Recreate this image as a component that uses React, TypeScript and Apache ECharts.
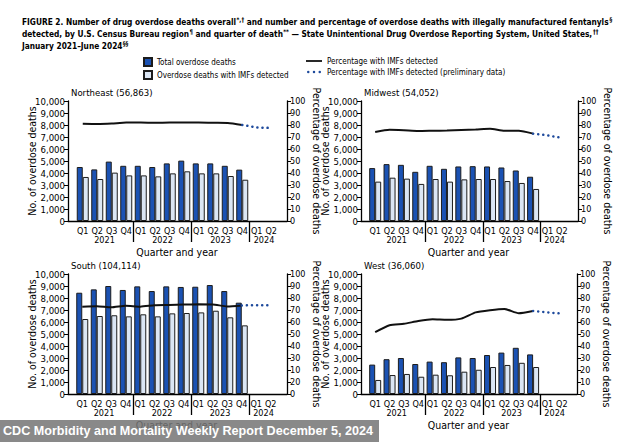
import React, { useEffect, useRef } from "react";
import * as echarts from "echarts";

// ---------- data ----------
const quarters = ["Q1", "Q2", "Q3", "Q4", "Q1", "Q2", "Q3", "Q4", "Q1", "Q2", "Q3", "Q4", "Q1", "Q2"];
const yearTicks = ["", "", "2021", "", "", "", "2022", "", "", "", "2023", "", "", "2024", ""];
const yearSeparators = [4, 8, 12];

const regionNames = ["Northeast (56,863)", "Midwest (54,052)", "South (104,114)", "West (36,060)"];

const neTotal = [4500, 4300, 4950, 4600, 4600, 4500, 4800, 5030, 4800, 4800, 4600, 4280];
const neImf = [3670, 3500, 4030, 3800, 3800, 3720, 3970, 4140, 3970, 3970, 3750, 3440];
const nePct = [81, 80.8, 81.2, 82, 82, 81.8, 82, 82, 82, 81.8, 81.7, 80];
const nePrelim = [80, 78, 77.5];

const mwTotal = [4410, 4740, 4680, 4100, 4600, 4350, 4545, 4570, 4545, 4460, 4210, 3690];
const mwImf = [3280, 3610, 3530, 3090, 3500, 3280, 3470, 3500, 3500, 3330, 3170, 2670];
const mwPct = [74.2, 76, 75.6, 75, 75.2, 75.4, 75.8, 76.2, 76.8, 75.2, 75.2, 72.8];
const mwPrelim = [72.8, 71.4, 69.2];

const soTotal = [8440, 8720, 9000, 8670, 8970, 8580, 8970, 8920, 8940, 9080, 8580, 7610];
const soImf = [6250, 6500, 6560, 6470, 6640, 6470, 6720, 6750, 6800, 6940, 6390, 5720];
const soPct = [72.8, 73.2, 72.2, 73.6, 72.8, 74, 74.2, 74.6, 74.7, 74.6, 73, 73.8];
const soPrelim = [73.8, 74, 74];

const weTotal = [2450, 2900, 3000, 2500, 2700, 2650, 3050, 3000, 3250, 3450, 3850, 3300];
const weImf = [1170, 1580, 1670, 1440, 1610, 1560, 1860, 2020, 2250, 2420, 2600, 2250];
const wePct = [51.5, 57.3, 58.5, 60.8, 62.2, 61.8, 62.8, 68, 69.8, 70.8, 67.3, 69.2];
const wePrelim = [69.2, 68, 67];

const countTicksMax = 10000;
const pctTicksMax = 100;
const southPctTickLabels = ["0", "20", "10", "30", "40", "50", "60", "70", "80", "90", "100"];

const totals = [neTotal, mwTotal, soTotal, weTotal];
const imfs = [neImf, mwImf, soImf, weImf];
const pcts = [nePct, mwPct, soPct, wePct];
const prelims = [nePrelim, mwPrelim, soPrelim, wePrelim];

// ---------- layout ----------
const FONT = "'DejaVu Sans Condensed', 'DejaVu Sans', sans-serif";
const panels = [
  { outerL: 68, outerW: 219, innerL: 75.5, innerW: 203, top: 101, h: 120 },
  { outerL: 361, outerW: 217, innerL: 368, innerW: 201, top: 101, h: 120 },
  { outerL: 68, outerW: 219, innerL: 75, innerW: 203, top: 274, h: 120 },
  { outerL: 361, outerW: 216, innerL: 368, innerW: 201, top: 274, h: 120 },
];

const BLUE = "#1b52b3";
const LIGHT = "#dbe6f4";
const EDGE = "#1c1c1c";
const DOT = "#1e4a9c";

// legend icons: a thick solid stroke, and three dots (invisible corner moves keep the box 16x8)
const SOLID_ICON = "path://M0,0M16,8M0,3.1H16V4.9H0Z";
const DOTS_ICON =
  "path://M0,0M16,8" +
  "M1,4a1.25,1.25 0 1,0 2.5,0a1.25,1.25 0 1,0 -2.5,0" +
  "M6.75,4a1.25,1.25 0 1,0 2.5,0a1.25,1.25 0 1,0 -2.5,0" +
  "M12.5,4a1.25,1.25 0 1,0 2.5,0a1.25,1.25 0 1,0 -2.5,0Z";

function buildOption() {
  const grid: any[] = [];
  const xAxis: any[] = [];
  const yAxis: any[] = [];
  const series: any[] = [];
  const graphic: any[] = [];

  panels.forEach((p, i) => {
    grid.push({ left: p.outerL, top: p.top, width: p.outerW, height: p.h, containLabel: false });
    grid.push({ left: p.innerL, top: p.top, width: p.innerW, height: p.h, containLabel: false });
    const gO = 2 * i;
    const gI = 2 * i + 1;

    xAxis.push({
      gridIndex: gO, type: "value", min: 0, max: 1,
      axisLine: { show: true, lineStyle: { color: "#000", width: 1.3 } },
      axisTick: { show: false }, axisLabel: { show: false }, splitLine: { show: false },
    });
    xAxis.push({
      gridIndex: gI, type: "category", data: quarters, position: "bottom",
      axisLine: { show: false }, axisTick: { show: false },
      axisLabel: { interval: 0, fontSize: 9, margin: 5, color: "#000", fontFamily: FONT },
    });
    xAxis.push({
      gridIndex: gI, type: "category", data: yearTicks, position: "bottom", boundaryGap: false,
      axisLine: { show: false },
      axisTick: {
        show: true, length: 21,
        interval: (idx: number) => yearSeparators.indexOf(idx) >= 0,
        lineStyle: { color: "#000", width: 1.3 },
      },
      axisLabel: { interval: 0, fontSize: 9, margin: 14, color: "#000", fontFamily: FONT },
      name: "Quarter and year", nameLocation: "middle", nameGap: 25,
      nameTextStyle: { fontSize: 10.5, color: "#000", fontFamily: FONT },
    });

    const isSouth = i === 2;
    yAxis.push({
      gridIndex: gO, type: "value", min: 0, max: countTicksMax, interval: 1000, position: "left",
      axisLine: { show: true, lineStyle: { color: "#000", width: 1.3 } },
      axisTick: { show: true, length: 4, lineStyle: { color: "#000" } },
      axisLabel: { fontSize: 9.5, margin: 3, color: "#000", fontFamily: FONT },
      splitLine: { show: false },
      name: "No. of overdose deaths", nameLocation: "middle", nameGap: 30.5, nameMoveOverlap: false,
      nameTextStyle: { fontSize: 10.5, color: "#000", fontFamily: FONT },
    });
    yAxis.push({
      gridIndex: gO, type: "value", min: 0, max: pctTicksMax, interval: 10, position: "right",
      axisLine: { show: true, lineStyle: { color: "#000", width: 1.3 } },
      axisTick: { show: true, length: 4, lineStyle: { color: "#000" } },
      axisLabel: {
        fontSize: 9, margin: 3, color: "#000", fontFamily: FONT,
        formatter: isSouth ? (v: number) => southPctTickLabels[Math.round(v / 10)] : undefined,
      },
      splitLine: { show: false },
      name: "Percentage of overdose deaths", nameLocation: "middle", nameGap: 24, nameRotate: -90,
      nameMoveOverlap: false,
      nameTextStyle: { fontSize: 10.5, color: "#000", fontFamily: FONT },
    });
    yAxis.push({ gridIndex: gI, type: "value", min: 0, max: countTicksMax, show: false, splitLine: { show: false } });
    yAxis.push({ gridIndex: gI, type: "value", min: 0, max: pctTicksMax, show: false, splitLine: { show: false } });

    const xQ = 3 * i + 1;
    const blank2 = [null, null];
    series.push({
      name: "Total overdose deaths", type: "bar", xAxisIndex: xQ, yAxisIndex: 4 * i + 2,
      data: [...totals[i], ...blank2], barWidth: 6, barGap: "0%",
      itemStyle: { color: BLUE, borderColor: EDGE, borderWidth: 1 },
    });
    series.push({
      name: "Overdose deaths with IMFs detected", type: "bar", xAxisIndex: xQ, yAxisIndex: 4 * i + 2,
      data: [...imfs[i], ...blank2], barWidth: 6, barGap: "0%",
      itemStyle: { color: LIGHT, borderColor: EDGE, borderWidth: 1 },
    });
    series.push({
      name: "Percentage with IMFs detected", type: "line", xAxisIndex: xQ, yAxisIndex: 4 * i + 3,
      data: [...pcts[i], ...blank2], symbol: "none", smooth: 0.2,
      lineStyle: { color: "#111", width: 2 }, itemStyle: { color: "#111" },
    });
    const dotted: (number | null)[] = quarters.map(() => null);
    prelims[i].forEach((v, k) => { dotted[11 + k] = v; });
    series.push({
      name: "Percentage with IMFs detected (preliminary data)", type: "line", xAxisIndex: xQ, yAxisIndex: 4 * i + 3,
      data: dotted, symbol: "none",
      lineStyle: { color: DOT, width: 2.5, type: [0.1, 5], cap: "round" }, itemStyle: { color: DOT },
    });

    graphic.push({
      type: "text", left: p.outerL + 3, top: p.top - 14,
      style: { text: regionNames[i], fontSize: 9.5, fontFamily: FONT, fill: "#000" },
    });
  });

  graphic.push({
    type: "text", x: 22, y: 16, scaleX: 0.92,
    style: {
      text:
        "FIGURE 2. Number of drug overdose deaths overall{s|*,†} and number and percentage of overdose deaths with illegally manufactured fentanyls{s|§}\n" +
        "detected, by U.S. Census Bureau region{s|¶} and quarter of death{s|**} — State Unintentional Drug Overdose Reporting System, United States,{s|††}\n" +
        "January 2021–June 2024{s|§§}",
      fontSize: 9, fontWeight: "bold", fontFamily: FONT, fill: "#000", lineHeight: 12,
      verticalAlign: "top",
      rich: { s: { fontSize: 6.5, fontWeight: "bold", fontFamily: FONT, verticalAlign: "top", lineHeight: 12, padding: [0, 0, 4, 0] } },
    },
  });

  graphic.push({
    type: "rect", z: 100, shape: { x: 0, y: 420, width: 379, height: 22 },
    style: { fill: "rgba(118,118,118,0.86)" },
  });
  graphic.push({
    type: "text", z: 101, x: 3, y: 431,
    style: {
      text: "CDC Morbidity and Mortality Weekly Report December 5, 2024",
      fill: "#fff", fontSize: 12.6, fontWeight: "bold", fontFamily: "'Liberation Sans', Arial, sans-serif",
      verticalAlign: "middle",
    },
  });

  return {
    animation: false,
    backgroundColor: "#fff",
    textStyle: { fontFamily: FONT, color: "#000" },
    legend: [
      {
        data: [
          { name: "Total overdose deaths", icon: "rect" },
          { name: "Overdose deaths with IMFs detected", icon: "rect" },
        ],
        left: 143, top: 57, padding: 0, orient: "vertical", itemWidth: 8, itemHeight: 8, itemGap: 3,
        textStyle: { fontSize: 8, color: "#000", fontFamily: FONT },
        selectedMode: false,
      },
      {
        data: [
          { name: "Percentage with IMFs detected", icon: SOLID_ICON },
          { name: "Percentage with IMFs detected (preliminary data)", icon: DOTS_ICON },
        ],
        left: 306, top: 57, padding: 0, orient: "vertical", itemWidth: 16, itemHeight: 8, itemGap: 3,
        textStyle: { fontSize: 8, color: "#000", fontFamily: FONT },
        selectedMode: false,
      },
    ],
    grid, xAxis, yAxis, series, graphic,
  };
}

export default function App() {
  const ref = useRef<HTMLDivElement>(null);
  useEffect(() => {
    if (!ref.current) return;
    const chart = echarts.init(ref.current, undefined, { renderer: "svg" });
    chart.setOption(buildOption() as any);
    return () => chart.dispose();
  }, []);
  return (
    <div
      ref={ref}
      style={{ position: "fixed", left: 0, top: 0, width: 634, height: 442, background: "#fff" }}
    />
  );
}
